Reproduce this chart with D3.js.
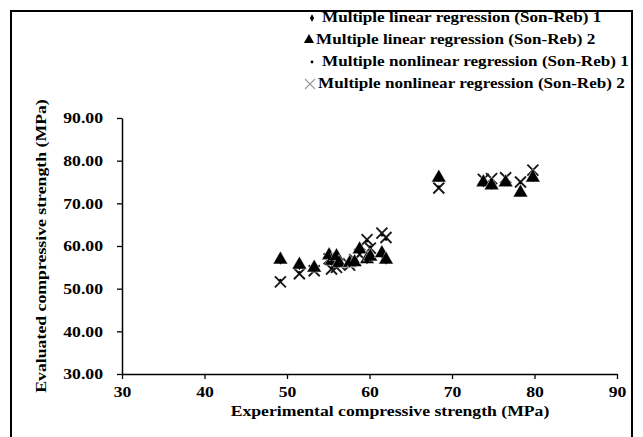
<!DOCTYPE html>
<html>
<head>
<meta charset="utf-8">
<script src="https://cdn.jsdelivr.net/npm/d3@7"></script>
<style>
  body { margin: 0; background: #fff; }
  text { font-family: "Liberation Serif", "Times New Roman", serif; font-weight: bold; fill: #000; }
</style>
</head>
<body>
<script>
// experimental values (x), shared by all four series
var experimental = [49.2, 51.5, 53.3, 55.1, 55.4, 56.0, 56.3, 57.6, 58.2, 58.8, 59.7, 60.1, 61.5, 62.0, 68.4, 73.8, 74.8, 76.5, 78.3, 79.8];
var linear1    = [56.5, 55.2, 54.6, 57.5, 56.2, 57.2, 55.7, 55.8, 56.0, 58.8, 56.6, 57.2, 58.0, 56.5, 75.8, 74.6, 74.0, 75.0, 72.8, 75.8];
var linear2    = [56.8, 55.6, 54.9, 57.8, 56.5, 57.6, 56.0, 56.0, 56.2, 59.2, 56.9, 57.5, 58.3, 56.8, 76.0, 74.9, 74.2, 74.9, 72.5, 76.0];
var nonlinear1 = [52.0, 53.8, 54.5, 57.2, 54.9, 55.3, 56.0, 55.8, 57.0, 58.3, 61.2, 59.8, 62.6, 61.6, 73.9, 75.3, 75.5, 75.7, 74.8, 77.4];
var nonlinear2 = [51.6, 53.5, 54.2, 57.0, 54.6, 55.0, 55.8, 55.5, 56.8, 58.0, 61.5, 59.5, 63.0, 62.0, 73.6, 75.6, 75.8, 76.0, 75.0, 77.8];

var xTicks = [30, 40, 50, 60, 70, 80, 90];
var yTicks = [30, 40, 50, 60, 70, 80, 90];
var legendLabels = [
  "Multiple linear regression (Son-Reb) 1",
  "Multiple linear regression (Son-Reb) 2",
  "Multiple nonlinear regression (Son-Reb) 1",
  "Multiple nonlinear regression (Son-Reb) 2"
];

const w = 643, h = 437;
const sx = 1.14;   // the original figure is a bit stretched sideways

var svg = d3.select("body").append("svg")
    .attr("width", w)
    .attr("height", h);

// outer frame (bottom edge is cut off in the original)
svg.append("rect")
    .attr("x", 11).attr("y", 11)
    .attr("width", 621).attr("height", 440)
    .attr("fill", "none")
    .attr("stroke", "#000")
    .attr("stroke-width", 2);

var x = d3.scaleLinear().domain([30, 90]).range([122, 617]);
var y = d3.scaleLinear().domain([30, 90]).range([374, 118]);

// axes
var xAxis = svg.append("g")
    .attr("transform", "translate(0," + y(30) + ")")
    .call(d3.axisBottom(x).tickValues(xTicks).tickSize(5).tickPadding(7).tickSizeOuter(0));
var yAxis = svg.append("g")
    .attr("transform", "translate(" + x(30) + ",0)")
    .call(d3.axisLeft(y).tickValues(yTicks).tickFormat(d3.format(".2f")).tickSize(5).tickPadding(14).tickSizeOuter(0));

[xAxis, yAxis].forEach(function (g) {
    g.select(".domain").attr("stroke-width", 1.5);
    g.selectAll(".tick line").attr("stroke-width", 1.3);
    g.selectAll("text")
        .attr("font-size", "15.5px")
        .attr("transform", "scale(" + sx + ",1)");
});
yAxis.selectAll("text").attr("x", -19 / sx);

// axis titles
svg.append("text")
    .attr("transform", "translate(390,416) scale(" + sx + ",1)")
    .attr("text-anchor", "middle")
    .attr("font-size", "15.5px")
    .text("Experimental compressive strength (MPa)");

svg.append("text")
    .attr("transform", "translate(46,246) rotate(-90) scale(1.145,1)")
    .attr("text-anchor", "middle")
    .attr("font-size", "15.5px")
    .text("Evaluated compressive strength (MPa)");

// markers
var tri = d3.symbol().type(d3.symbolTriangle).size(95);
var diamond = d3.symbol().type(d3.symbolDiamond).size(16);

function drawCross(g, cx, cy, r, color, sw) {
    g.append("path")
        .attr("d", "M" + (cx - r) + "," + (cy - r) + "L" + (cx + r) + "," + (cy + r) +
                   "M" + (cx - r) + "," + (cy + r) + "L" + (cx + r) + "," + (cy - r))
        .attr("stroke", color)
        .attr("stroke-width", sw)
        .attr("fill", "none");
}

var plot = svg.append("g");

// nonlinear 2: crosses
var crosses = plot.append("g");
experimental.forEach(function (d, i) {
    drawCross(crosses, x(d), y(nonlinear2[i]), 5.5, "#1a1a1a", 1.9);
});

// linear 2: triangles
plot.append("g").selectAll("path")
    .data(experimental)
    .enter()
    .append("path")
    .attr("d", tri)
    .attr("transform", function (d, i) {
        return "translate(" + x(d) + "," + y(linear2[i]) + ")";
    })
    .attr("fill", "#000")
    .attr("stroke", "#fff")
    .attr("stroke-width", 0.5);

// linear 1: small diamonds
plot.append("g").selectAll("path")
    .data(experimental)
    .enter()
    .append("path")
    .attr("d", diamond)
    .attr("transform", function (d, i) {
        return "translate(" + x(d) + "," + y(linear1[i]) + ")";
    })
    .attr("fill", "#000");

// nonlinear 1: small dots
plot.append("g").selectAll("circle")
    .data(experimental)
    .enter()
    .append("circle")
    .attr("cx", function (d) { return x(d); })
    .attr("cy", function (d, i) { return y(nonlinear1[i]); })
    .attr("r", 1.5)
    .attr("fill", "#000");

// legend
var legend = svg.append("g");
var legY = [17, 39, 61, 83];
var legX = [322, 316, 322, 318];
var legTexts = legendLabels.map(function (t, i) {
    return legend.append("text")
        .attr("dy", "0.35em")
        .attr("font-size", "15.5px")
        .text(t);
});
// squeeze so the longest line ends just inside the frame
var legSx = (629 - legX[2]) / legTexts[2].node().getComputedTextLength();
legTexts.forEach(function (t, i) {
    t.attr("transform", "translate(" + legX[i] + "," + legY[i] + ") scale(" + legSx + ",1)");
});
legend.append("path").attr("d", diamond).attr("transform", "translate(312," + (legY[0] + 1) + ")").attr("fill", "#000");
legend.append("path").attr("d", d3.symbol().type(d3.symbolTriangle).size(45)).attr("transform", "translate(309," + (legY[1] + 1) + ")").attr("fill", "#000");
legend.append("circle").attr("cx", 312).attr("cy", legY[2] + 1).attr("r", 1.4).attr("fill", "#000");
drawCross(legend, 310, legY[3] + 1, 5, "#999", 1.1);
</script>
</body>
</html>
